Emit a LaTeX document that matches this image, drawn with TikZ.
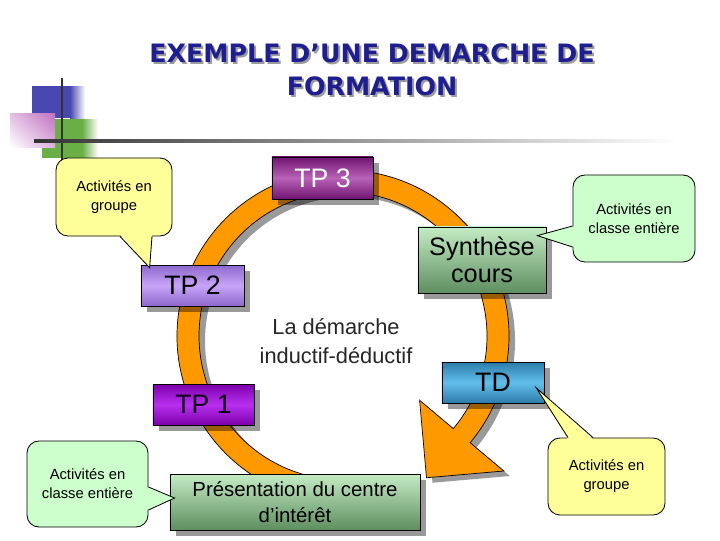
\documentclass[tikz,border=0pt]{standalone}
\usepackage{fontspec}
\setmainfont{Liberation Sans}
\newfontfamily\titlefont{DejaVu Sans}
\usepackage{tikz}
\usetikzlibrary{calc,shadows,shadings,positioning}
\definecolor{ringorange}{HTML}{FF9900}
\definecolor{ringshadow}{HTML}{9A9A9A}
\definecolor{bubbleyellow}{HTML}{FFFF99}
\definecolor{bubblegreen}{HTML}{CCFFCC}
\definecolor{titleblue}{HTML}{1E1E90}
\definecolor{titleshade}{HTML}{9C9C9C}
\definecolor{tpthreeedge}{HTML}{701470}
\definecolor{tpthreemid}{HTML}{B862B8}
\definecolor{tptwoedge}{HTML}{8C68CC}
\definecolor{tptwomid}{HTML}{C8A4F8}
\definecolor{tponeedge}{HTML}{7C00AA}
\definecolor{tponemid}{HTML}{B830F0}
\definecolor{tdedge}{HTML}{2C7CAA}
\definecolor{tdmid}{HTML}{62BEEA}
\definecolor{greentop}{HTML}{C4ECC4}
\definecolor{greenbottom}{HTML}{5E8E60}
\definecolor{decoblue}{HTML}{4848B0}
\definecolor{decogreen}{HTML}{6AAE46}
\definecolor{decopink}{HTML}{C070C0}
\definecolor{decoline}{HTML}{333333}

\begin{document}
\begin{tikzpicture}[x=0.025cm,y=-0.025cm]
\tikzstyle{stage}=[rectangle, draw=black, line width=0.5pt, inner sep=0pt, align=center, drop shadow={shadow xshift=0.16cm, shadow yshift=-0.16cm, opacity=0.4, fill=black}]
\tikzstyle{tptext}=[font=\fontsize{19}{21}\selectfont]
\tikzstyle{bubble}=[rectangle, rounded corners=0.3cm, draw=black, line width=0.6pt, inner sep=0pt, align=center, font=\fontsize{10.5}{13.5}\selectfont]
\tikzstyle{titletext}=[anchor=base, inner sep=0pt, font=\titlefont\bfseries\fontsize{18}{22}\selectfont]
\useasboundingbox (0,0) rectangle (720,540);

% corner decoration
\fill[decoblue] (32,86) rectangle (70,118);
\shade[left color=decoblue, right color=white] (70,86) rectangle (85,118);
\fill[decogreen] (42,119) rectangle (82,158);
\shade[left color=decogreen, right color=white] (82,119) rectangle (98,158);
\shade[upper left=decopink!45, upper right=decopink, lower left=white, lower right=decopink!55] (10,113) rectangle (55,147);
\draw[line width=2pt, decoline] (62,78) -- (62,170);
\shade[left color=decoline, right color=white] (34,139.5) rectangle (677,142.5);

% title
\node[titletext, text=titleshade] (title_1s) at (374,64) {EXEMPLE D’UNE DEMARCHE DE};
\node[titletext, text=titleblue] (title_1) at (372,62) {EXEMPLE D’UNE DEMARCHE DE};
\node[titletext, text=titleshade] (title_2s) at (374,97) {FORMATION};
\node[titletext, text=titleblue] (title_2) at (372,95) {FORMATION};

% circular arrow
\fill[ringshadow, shift={(349,341)}] (100:166) arc[start angle=100, end angle=400, radius=166]
	-- (400:210) -- (59.5:164.5) -- (400:100) -- (400:144)
	arc[start angle=400, end angle=100, radius=144] -- cycle;
\filldraw[fill=ringorange, draw=black, line width=0.5pt, shift={(343,336)}] (100:166) arc[start angle=100, end angle=400, radius=166]
	-- (400:210) -- (59.5:164.5) -- (400:100) -- (400:144)
	arc[start angle=400, end angle=100, radius=144] -- cycle;

% stages
\node[stage, tptext, top color=tpthreeedge, bottom color=tpthreeedge, middle color=tpthreemid, text=white, minimum width=2.525cm, minimum height=1.05cm] (tp_3) at (322.5,178) {TP 3};
\node[stage, tptext, top color=tptwoedge, bottom color=tptwoedge, middle color=tptwomid, minimum width=2.575cm, minimum height=1.025cm] (tp_2) at (192.5,285.5) {TP 2};
\node[stage, tptext, top color=tponeedge, bottom color=tponeedge, middle color=tponemid, text=black!85!tponeedge, minimum width=2.525cm, minimum height=1.025cm] (tp_1) at (203.5,404.5) {TP 1};
\node[stage, top color=greentop, bottom color=greenbottom, font=\fontsize{18}{19.5}\selectfont, minimum width=3.2cm, minimum height=1.65cm] (syn) at (482,260) {Synthèse\\cours};
\node[stage, tptext, top color=tdedge, bottom color=tdedge, middle color=tdmid, minimum width=2.55cm, minimum height=1.025cm] (td) at (493,382.5) {TD};
\node[stage, top color=greentop, bottom color=greenbottom, font=\fontsize{14.5}{19}\selectfont, minimum width=6.25cm, minimum height=1.4cm] (pres) at (295,502) {Présentation du centre\\d’intérêt};

\node[align=center, text=black!85, font=\fontsize{15.5}{21}\selectfont] (core) at (336,341) {La démarche\\inductif-déductif};

% callouts
\node[bubble, fill=bubbleyellow, minimum width=2.9cm, minimum height=1.95cm] (act_1) at (114,197) {Activités en\\groupe};
\fill[bubbleyellow] ($(act_1.south)+(6,-2)$) -- ($(tp_2.north west)+(9,3)$) -- ($(act_1.south)+(38,-2)$) -- cycle;
\draw[line width=0.6pt] ($(act_1.south)+(6,0)$) -- ($(tp_2.north west)+(9,3)$) -- ($(act_1.south)+(38,0)$);

\node[bubble, fill=bubblegreen, minimum width=3.05cm, minimum height=2.175cm] (act_2) at (634,218.5) {Activités en\\classe entière};
\fill[bubblegreen] ($(act_2.west)+(2,7.5)$) -- ($(syn.north east)+(-9,9)$) -- ($(act_2.west)+(2,28.5)$) -- cycle;
\draw[line width=0.6pt] ($(act_2.west)+(0,7.5)$) -- ($(syn.north east)+(-9,9)$) -- ($(act_2.west)+(0,28.5)$);

\node[bubble, fill=bubblegreen, minimum width=3.025cm, minimum height=2.15cm] (act_3) at (87.5,484) {Activités en\\classe entière};
\fill[bubblegreen] ($(act_3.east)+(-2,3)$) -- ($(pres.west)+(5,-4)$) -- ($(act_3.east)+(-2,26)$) -- cycle;
\draw[line width=0.6pt] ($(act_3.east)+(0,3)$) -- ($(pres.west)+(5,-4)$) -- ($(act_3.east)+(0,26)$);

\node[bubble, fill=bubbleyellow, minimum width=2.925cm, minimum height=1.925cm] (act_4) at (606.5,476.5) {Activités en\\groupe};
\fill[bubbleyellow] ($(act_4.north)+(-38.5,2)$) -- ($(td.east)+(-8,5.5)$) -- ($(act_4.north)+(-13.5,2)$) -- cycle;
\draw[line width=0.6pt] ($(act_4.north)+(-38.5,0)$) -- ($(td.east)+(-8,5.5)$) -- ($(act_4.north)+(-13.5,0)$);

\end{tikzpicture}
\end{document}
